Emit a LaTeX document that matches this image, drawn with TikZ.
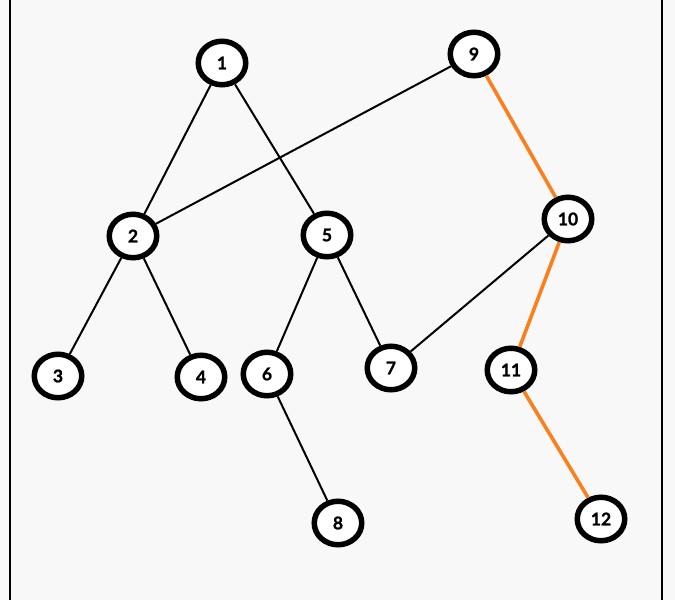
\documentclass[tikz,border=0pt]{standalone}
\usepackage{fontspec}
\setmainfont{Lato}[BoldFeatures={FakeBold=1.2}]
\usetikzlibrary{shapes.geometric}
\definecolor{bgc}{RGB}{248,248,248}
\definecolor{orangec}{RGB}{250,128,30}
\tikzset{
  vnode/.style={ellipse, draw=black, fill=white, line width=5.5pt,
    minimum width=47.5pt, minimum height=43.5pt, inner sep=0pt,
    font=\fontsize{17.5}{19}\selectfont\bfseries, text=black},
  blackedge/.style={draw=black, line width=2pt},
  orangeedge/.style={draw=orangec, line width=3.6pt},
  frameline/.style={draw=black, line width=2pt}
}
\begin{document}
\begin{tikzpicture}[x=1pt,y=-1pt]
\fill[bgc] (0,0) rectangle (675,600);
\useasboundingbox (0,0) rectangle (675,600);
\coordinate (fl1) at (9.5,0); \coordinate (fl2) at (9.5,600);
\coordinate (fr1) at (661.5,0); \coordinate (fr2) at (661.5,600);
\draw[frameline] (fl1) -- (fl2);
\draw[frameline] (fr1) -- (fr2);
\node[vnode] (n1) at (222,63) {1};
\node[vnode] (n9) at (474,54) {9};
\node[vnode] (n2) at (133,236) {2};
\node[vnode] (n5) at (327,235) {5};
\node[vnode] (n10) at (568,219) {10};
\node[vnode] (n3) at (58,376) {3};
\node[vnode] (n4) at (201,377) {4};
\node[vnode] (n6) at (267,374) {6};
\node[vnode] (n7) at (391,368) {7};
\node[vnode] (n11) at (511,370) {11};
\node[vnode] (n8) at (338,523) {8};
\node[vnode] (n12) at (601,519) {12};
\draw[blackedge] (n1) -- (n2);
\draw[blackedge] (n1) -- (n5);
\draw[blackedge] (n9) -- (n2);
\draw[blackedge] (n2) -- (n3);
\draw[blackedge] (n2) -- (n4);
\draw[blackedge] (n5) -- (n6);
\draw[blackedge] (n5) -- (n7);
\draw[blackedge] (n10) -- (n7);
\draw[blackedge] (n6) -- (n8);
\draw[orangeedge] (n9) -- (n10);
\draw[orangeedge] (n10) -- (n11);
\draw[orangeedge] (n11) -- (n12);
\end{tikzpicture}
\end{document}
